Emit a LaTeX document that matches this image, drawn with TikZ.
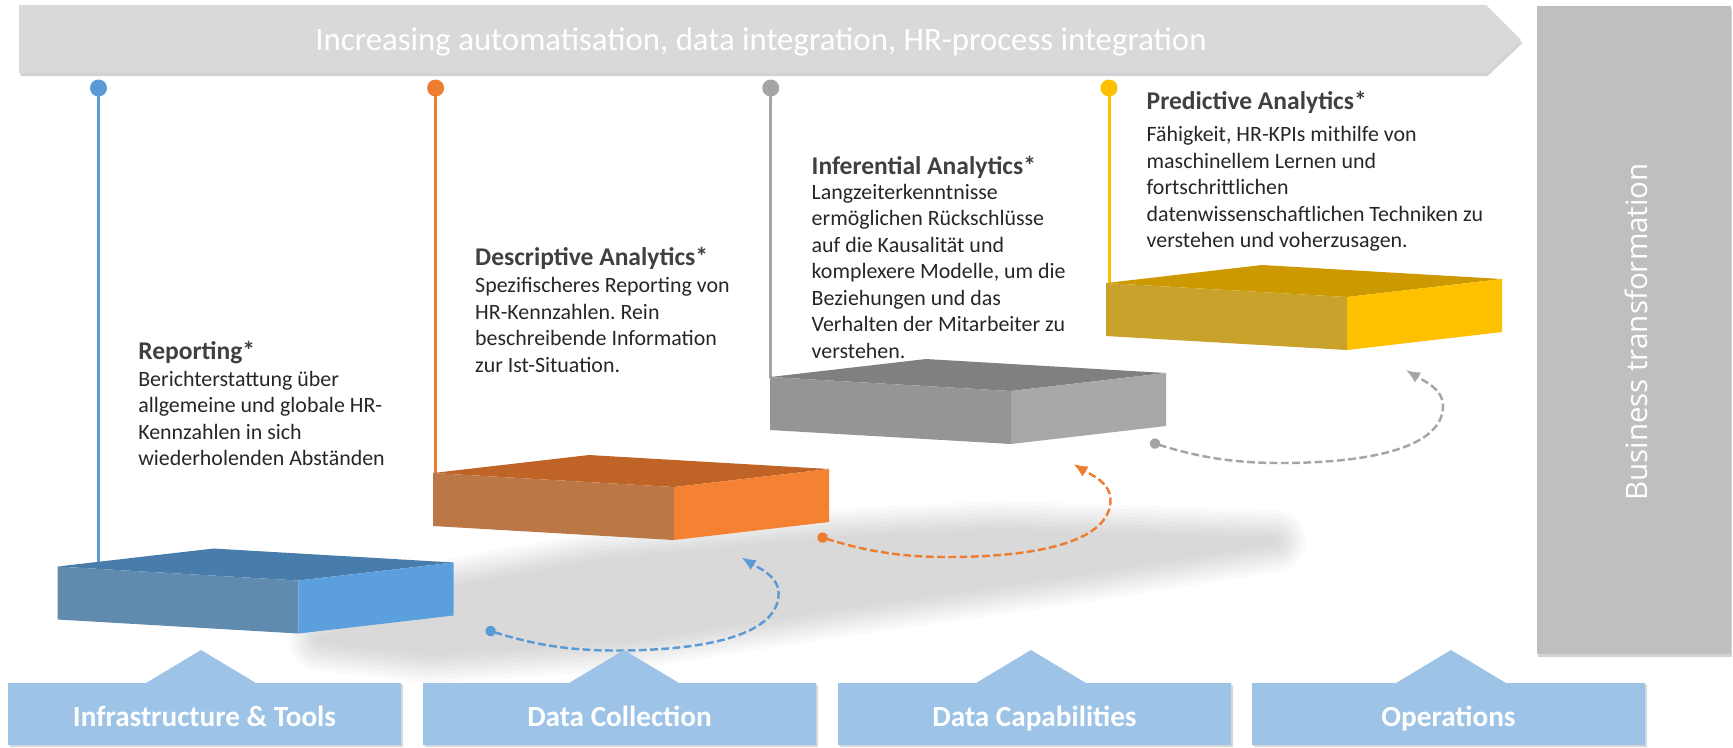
\documentclass[tikz,border=0pt]{standalone}
\usepackage{fontspec}
\setmainfont{Carlito}
\newfontfamily\bizfont{Open Sans}
\usepackage{tikz}
\usepackage{xcolor}
\usetikzlibrary{calc,arrows.meta,shadows}
\frenchspacing
\definecolor{hr-blau}{HTML}{5B9BD5}
\definecolor{hr-orange}{HTML}{ED7D31}
\definecolor{hr-grau}{HTML}{A5A5A5}
\definecolor{hr-gold}{HTML}{FFC000}
\definecolor{hr-blau-oben}{HTML}{487CAB}
\definecolor{hr-blau-links}{HTML}{608AAE}
\definecolor{hr-blau-rechts}{HTML}{5BA0DC}
\definecolor{hr-orange-oben}{HTML}{BF6326}
\definecolor{hr-orange-links}{HTML}{BB7746}
\definecolor{hr-orange-rechts}{HTML}{F58233}
\definecolor{hr-grau-oben}{HTML}{808080}
\definecolor{hr-grau-links}{HTML}{959595}
\definecolor{hr-grau-rechts}{HTML}{A8A8A8}
\definecolor{hr-gold-oben}{HTML}{CC9900}
\definecolor{hr-gold-links}{HTML}{C9A22B}
\definecolor{hr-gold-rechts}{HTML}{FFC000}
\definecolor{hr-feld}{HTML}{9DC3E6}
\definecolor{hr-banner}{HTML}{D9D9D9}
\definecolor{hr-balken}{HTML}{BFBFBF}
\definecolor{hr-titel}{HTML}{404040}
\definecolor{hr-text}{HTML}{262626}

\tikzset{
    titel/.style={anchor=base west, inner sep=0pt, text=hr-titel, font=\fontsize{7.26}{8.7}\selectfont\bfseries},
    fliesstext/.style={anchor=base west, inner sep=0pt, text=hr-text, font=\fontsize{6.23}{7.54}\selectfont},
    pinlinie/.style={line width=0.85pt},
    schleife/.style={line width=0.7pt, dash pattern=on 2.2pt off 1pt, {Circle[length=3pt]}-{Latex[length=4pt,width=3.4pt]}},
    feld/.style={fill=hr-feld, drop shadow={shadow xshift=0.6pt, shadow yshift=-0.6pt, opacity=0.3}},
    feldtext/.style={anchor=base, inner sep=0pt, text=white, font=\fontsize{8.31}{10}\selectfont\bfseries}
}

% Stufe: #1 x, #2 y (linke obere Ecke), #3 Deckfläche, #4 links, #5 rechts
\newcommand{\stufe}[5]{
    \begin{scope}[shift={(#1,#2)}]
        \fill[#3] (0,0) -- (156,-18) -- (396,-4) -- (241,14) -- cycle;
        \fill[#4] (0,0) -- (241,14) -- (241,67) -- (0,53) -- cycle;
        \fill[#5] (241,14) -- (396,-4) -- (396,49) -- (241,67) -- cycle;
    \end{scope}
}
% Mehrzeiliger Text, Grundlinie = erste Zeile
\newcommand{\zeilen}[1]{\begin{tabular}[t]{@{}l@{}}#1\end{tabular}}

\begin{document}
\begin{tikzpicture}[x=0.01cm, y=-0.01cm]
    \useasboundingbox (0,0) rectangle (1733,747);

    % Schatten der Treppe (weich gezeichnet)
    \foreach \w in {1,...,8} {
        \pgfmathsetmacro\lw{\w*2.2}
        \begin{scope}[transparency group, opacity=0.02]
            \filldraw[black, line width=\lw pt, line join=round]
                (320,640) -- (460,588) -- (600,562) -- (830,540) -- (1000,532) -- (1275,541)
                -- (1080,572) -- (840,606) -- (620,640) -- (430,652) -- cycle;
        \end{scope}
    }

    % Banner oben
    \fill[hr-banner, drop shadow={shadow xshift=0.4pt, shadow yshift=-0.9pt, opacity=0.35}]
        (19,5) -- (1486,5) -- (1521,40) -- (1486,73) -- (19,73) -- cycle;
    \node[anchor=base, inner sep=0pt, text=white, font=\fontsize{9.33}{11}\selectfont] (banner)
        at (761,50.7) {Increasing automatisation, data integration, HR-process integration};

    % Balken rechts
    \fill[hr-balken, drop shadow={shadow xshift=0.4pt, shadow yshift=-0.9pt, opacity=0.35}]
        (1537,6) rectangle (1731,654);
    \node[rotate=90, anchor=base, inner sep=0pt, text=white, font=\bizfont\fontsize{8.4}{9}\selectfont] (business)
        at (1647,332) {Business transformation};

    % Stecknadeln
    \foreach \x/\fuss/\farbe [count=\i] in {98.5/562/hr-blau, 435.6/474/hr-orange, 770.7/378/hr-grau, 1109/284/hr-gold} {
        \coordinate (pin-\i) at (\x,88);
        \coordinate (fuss-\i) at (\x,\fuss);
        \draw[pinlinie, \farbe] (pin-\i) -- (fuss-\i);
        \fill[\farbe] (pin-\i) circle[radius=8.5];
    }

    % Stufen
    \stufe{57.5}{566.5}{hr-blau-oben}{hr-blau-links}{hr-blau-rechts}
    \stufe{433}{473}{hr-orange-oben}{hr-orange-links}{hr-orange-rechts}
    \stufe{770}{377}{hr-grau-oben}{hr-grau-links}{hr-grau-rechts}
    \stufe{1106}{283}{hr-gold-oben}{hr-gold-links}{hr-gold-rechts}

    % Gestrichelte Pfeile
    \foreach \sx/\sy/\farbe [count=\i] in {485.6/629.5/hr-blau, 817.5/536/hr-orange, 1150/442/hr-grau} {
        \coordinate (start-\i) at (\sx,\sy);
        \coordinate (ziel-\i) at (\sx+256,\sy-72);
        \draw[schleife, \farbe] (start-\i)
            .. controls +(45,14) and +(-50,0) .. ++(130,21)
            .. controls +(95,0) and +(0,40) .. ++(163,-57)
            .. controls +(0,-18) and +(16,10) .. (ziel-\i);
    }

    % Felder unten
    \foreach \x/\spitze/\beschriftung [count=\i] in {8/201/Infrastructure \& Tools, 423/624/Data Collection, 838/1031/Data Capabilities, 1252/1451/Operations} {
        \fill[feld] (\x,683) -- (\spitze-55,683) -- (\spitze,650) -- (\spitze+55,683)
            -- (\x+393,683) -- (\x+393,745) -- (\x,745) -- cycle;
        \node[feldtext] (feld-\i) at (\x+196.5,726) {\beschriftung};
    }

    % Texte
    \node[titel] (titel-rep) at (137.6,359.3) {Reporting*};
    \node[fliesstext] (text-rep) at ($(titel-rep.base west)+(0,27)$)
        {\zeilen{Berichterstattung über\\allgemeine und globale HR-\\Kennzahlen in sich\\wiederholenden Abständen}};
    \node[titel] (titel-des) at (474.5,265.7) {Descriptive Analytics*};
    \node[fliesstext] (text-des) at ($(titel-des.base west)+(0,27)$)
        {\zeilen{Spezifischeres Reporting von\\HR-Kennzahlen. Rein\\beschreibende Information\\zur Ist-Situation.}};
    \node[titel] (titel-inf) at (811,174) {Inferential Analytics*};
    \node[fliesstext] (text-inf) at ($(titel-inf.base west)+(0,25)$)
        {\zeilen{Langzeiterkenntnisse\\ermöglichen Rückschlüsse\\auf die Kausalität und\\komplexere Modelle, um die\\Beziehungen und das\\Verhalten der Mitarbeiter zu\\verstehen.}};
    \node[titel] (titel-pre) at (1146,109.3) {Predictive Analytics*};
    \node[fliesstext] (text-pre) at ($(titel-pre.base west)+(0,32.4)$)
        {\zeilen{Fähigkeit, HR-KPIs mithilfe von\\maschinellem Lernen und\\fortschrittlichen\\datenwissenschaftlichen Techniken zu\\verstehen und voherzusagen.}};
\end{tikzpicture}
\end{document}
